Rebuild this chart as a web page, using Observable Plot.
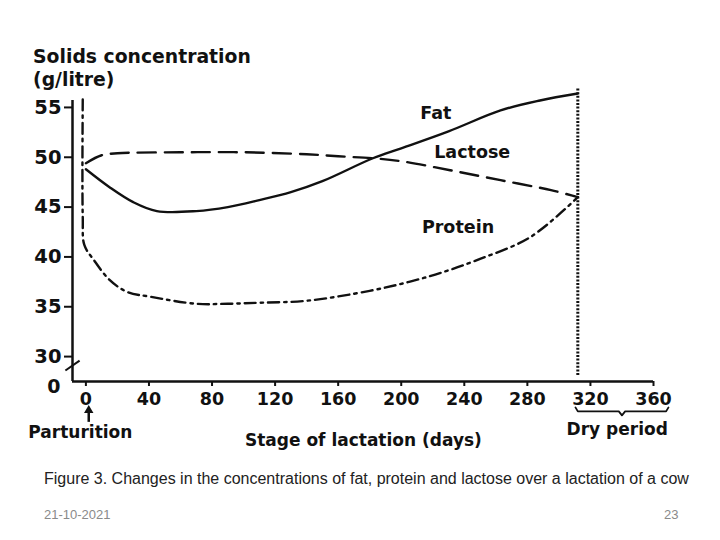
<!DOCTYPE html>
<html><head><meta charset="utf-8">
<script src="https://cdn.jsdelivr.net/npm/d3@7"></script>
<script src="https://cdn.jsdelivr.net/npm/@observablehq/plot@0.6"></script>
<style>
body{margin:0;background:#fff;}
#wrap{position:relative;width:720px;height:540px;overflow:hidden;background:#fff;}
#chart{position:absolute;left:0;top:0;}
#caption{position:absolute;left:44px;top:470px;font:16px "Liberation Sans",Arial,sans-serif;color:#222;white-space:nowrap;}
#date{position:absolute;left:44px;top:507px;font:13px "Liberation Sans",Arial,sans-serif;color:#8a8a8a;}
#page{position:absolute;left:664px;top:507px;font:13px "Liberation Sans",Arial,sans-serif;color:#8a8a8a;}
</style></head>
<body><div id="wrap"><div id="chart"></div>
<div id="caption">Figure 3. Changes in the concentrations of fat, protein and lactose over a lactation of a cow</div>
<div id="date">21-10-2021</div><div id="page">23</div></div>
<script>
// ---- data ----
const fatDays = [0, 15, 30, 45, 70, 90, 110, 130, 150, 182, 200, 230, 263, 288, 312];
const fatValues = [48.8, 47.0, 45.5, 44.6, 44.6, 45.0, 45.7, 46.5, 47.6, 49.9, 50.9, 52.6, 54.7, 55.7, 56.4];
const lactoseDays = [0, 10, 20, 60, 100, 140, 160, 182, 200, 231, 263, 295, 312];
const lactoseValues = [49.4, 50.2, 50.4, 50.5, 50.5, 50.3, 50.1, 49.9, 49.6, 48.7, 47.7, 46.7, 46.0];
const proteinDays = [-2, -2, -1, 5, 15, 26, 41, 70, 90, 110, 140, 180, 205, 225, 250, 282, 312];
const proteinValues = [55.8, 44, 41.2, 39.7, 37.7, 36.5, 36.0, 35.3, 35.3, 35.4, 35.6, 36.6, 37.5, 38.4, 39.8, 42.0, 46.0];
const dryPeriodStart = [312];
const xTicks = [0, 40, 80, 120, 160, 200, 240, 280, 320, 360];
const yTicks = [30, 35, 40, 45, 50, 55];
const yBreakLabel = ["0"];
const seriesLabels = [
  {label: "Fat", day: 222, value: 54.4},
  {label: "Lactose", day: 245, value: 50.5},
  {label: "Protein", day: 236, value: 43.0}
];
const titleLines = [
  {text: "Solids concentration", day: -33.5, value: 60.1},
  {text: "(g/litre)", day: -33.5, value: 57.8}
];
const axisNotes = [
  {text: "Parturition", day: -3.5, value: 22.4},
  {text: "Stage of lactation (days)", day: 176, value: 21.6},
  {text: "Dry period", day: 337, value: 22.7}
];
const partArrow = [{day: 1.8, y1: 23.4, y2: 24.6}];
const bracePts = [[310.5, 24.9], [312, 24.5], [338, 24.5], [340, 24.1], [342, 24.5], [368, 24.5], [369.5, 24.9]];
const breakMark = [{x1: -13, y1: 28.6, x2: -4, y2: 29.6}];
const xMin = -8.5, xMax = 360, yMin = 27.5, yMax = 57, yAxisTop = 55.7;

const toRows = (name, ds, vs) => ds.map((d, i) => ({series: name, day: d, value: vs[i]}));
const fat = toRows("Fat", fatDays, fatValues);
const lactose = toRows("Lactose", lactoseDays, lactoseValues);
const protein = toRows("Protein", proteinDays, proteinValues);
const brace = bracePts.map(([d, v]) => ({day: d, value: v}));
const ink = "#111";

const chart = Plot.plot({
  width: 720, height: 460,
  marginTop: 87, marginBottom: 79, marginLeft: 72, marginRight: 67,
  x: {domain: [xMin, xMax]},
  y: {domain: [yMin, yMax]},
  style: {fontFamily: "'DejaVu Sans', sans-serif", fontSize: "17px", fontWeight: "bold", color: ink, background: "transparent", overflow: "visible"},
  marks: [
    Plot.axisX({ticks: xTicks, tickSize: 5, tickPadding: 6, label: null, stroke: ink, strokeWidth: 2, fill: ink, fontSize: 17.5}),
    Plot.axisY({ticks: yTicks, tickSize: 8, tickPadding: 3, label: null, stroke: ink, strokeWidth: 2, fill: ink, fontSize: 19.5}),
    Plot.ruleY([yMin], {x1: xMin, x2: xMax, stroke: ink, strokeWidth: 2.5}),
    Plot.ruleX([xMin], {y1: yMin, y2: yAxisTop, stroke: ink, strokeWidth: 2.5}),
    Plot.text(yBreakLabel, {x: xMin, y: yMin, text: d => d, dx: -12, dy: 5, textAnchor: "end", fill: ink, fontSize: 19}),
    Plot.link(breakMark, {x1: "x1", y1: "y1", x2: "x2", y2: "y2", stroke: ink, strokeWidth: 2}),
    Plot.ruleX(dryPeriodStart, {y1: yMin + 0.6, y2: yMax, stroke: ink, strokeWidth: 3, strokeDasharray: "2,1.6"}),
    Plot.line(fat, {x: "day", y: "value", curve: "catmull-rom", stroke: ink, strokeWidth: 2.4}),
    Plot.line(lactose, {x: "day", y: "value", curve: "catmull-rom", stroke: ink, strokeWidth: 2.4, strokeDasharray: "18,9"}),
    Plot.line(protein, {x: "day", y: "value", curve: "catmull-rom", stroke: ink, strokeWidth: 2.4, strokeDasharray: "11,5,2.5,5"}),
    Plot.text(seriesLabels, {x: "day", y: "value", text: "label", fill: ink, fontSize: 17.5}),
    Plot.text(titleLines, {x: "day", y: "value", text: "text", textAnchor: "start", fill: ink, fontSize: 18.8}),
    Plot.text(axisNotes, {x: "day", y: "value", text: "text", fill: ink}),
    Plot.ruleX(partArrow, {x: "day", y1: "y1", y2: "y2", stroke: ink, strokeWidth: 2.5}),
    Plot.dot(partArrow, {x: "day", y: "y2", symbol: "triangle", r: 3.5, fill: ink, stroke: null}),
    Plot.line(brace, {x: "day", y: "value", stroke: ink, strokeWidth: 1.8})
  ]
});
document.getElementById("chart").appendChild(chart);
</script>
</body></html>
